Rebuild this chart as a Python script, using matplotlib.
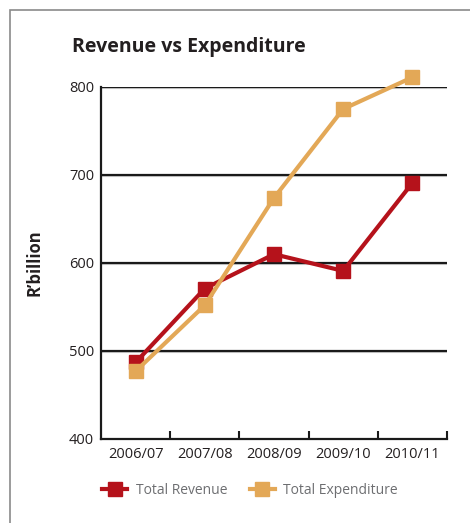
import numpy as np
import matplotlib
matplotlib.use('Agg')
import matplotlib.pyplot as plt
from matplotlib.patches import Rectangle

plt.rcParams['font.family'] = ['Open Sans', 'DejaVu Sans']

years = ['2006/07', '2007/08', '2008/09', '2009/10', '2010/11']
revenue = [487, 571, 610, 591, 691]
expenditure = [477, 552, 674, 775, 811]
yticks = [400, 500, 600, 700, 800]

red = '#b5121b'
orange = '#e3a857'

fig = plt.figure(figsize=(4.7, 5.23), dpi=100)
ax = fig.add_axes([101/470, 1-439/523, 346/470, 352/523])

# frame round the whole chart
fig.patches.append(Rectangle((10/470, -0.1), 1.2, 1-10/523+0.1, transform=fig.transFigure,
                             fill=False, edgecolor='#8a8a8a', linewidth=1.2))

x = np.arange(len(years))
for v in yticks[1:]:
    ax.axhline(v - 1.2, color='#cfcfcf', linewidth=1.5, zorder=1)
    ax.axhline(v, color='#1a1a1a', linewidth=1.6, zorder=1)

ax.plot(x, revenue, color=red, linewidth=3, marker='s', markersize=9.5,
        label='Total Revenue', zorder=3, clip_on=False)
ax.plot(x, expenditure, color=orange, linewidth=3, marker='s', markersize=9.5,
        label='Total Expenditure', zorder=3, clip_on=False)

ax.set_xlim(-0.5, 4.5)
ax.set_ylim(400, 800)
ax.set_yticks(yticks)
ax.set_yticklabels([str(v) for v in yticks], fontsize=10.5, color='#231f20')
ax.tick_params(axis='y', length=0, pad=5)

ax.set_xticks(x)
ax.set_xticklabels(years, fontsize=10.5, color='#231f20')
ax.tick_params(axis='x', which='major', length=0, pad=6)
ax.set_xticks(np.arange(0.5, 5, 1), minor=True)
ax.tick_params(axis='x', which='minor', direction='in', length=6, width=1.5, color='#1a1a1a')

for s in ['top', 'right']:
    ax.spines[s].set_visible(False)
for s in ['left', 'bottom']:
    ax.spines[s].set_color('#1a1a1a')
    ax.spines[s].set_linewidth(1.6)

ax.set_ylabel("R\u2019billion", fontsize=12, fontweight='bold', color='#231f20', labelpad=18)
fig.text(72/470, 1-47/523, 'Revenue vs Expenditure', fontsize=14, fontweight='bold',
         color='#231f20', va='center', ha='left')

leg = fig.legend(loc='center', bbox_to_anchor=(250/470, 1-490/523), ncol=2, frameon=False,
                 fontsize=10, handlelength=1.8, columnspacing=1.6, handletextpad=0.6)
for t in leg.get_texts():
    t.set_color('#6d6e71')

fig.savefig('out.png', dpi=100)
